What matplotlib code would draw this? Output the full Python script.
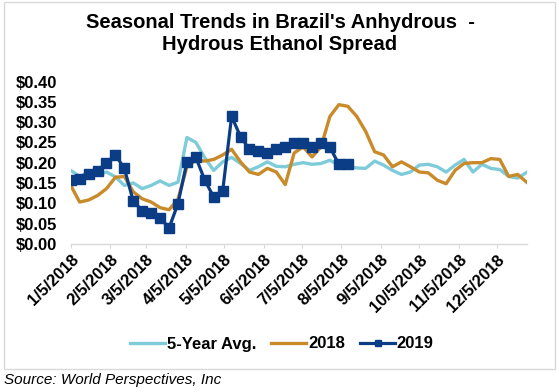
import datetime as dt

import matplotlib.pyplot as plt
import matplotlib.dates as mdates
from matplotlib.patches import Rectangle

plt.rcParams['font.family'] = ['Liberation Sans', 'DejaVu Sans']

# weekly dates (2019 values are drawn on the same calendar weeks)
start_date = dt.date(2018, 1, 5)
n_weeks = 52

avg5 = [0.181, 0.166, 0.177, 0.169, 0.177, 0.165, 0.144, 0.150, 0.136, 0.144,
        0.155, 0.144, 0.152, 0.262, 0.250, 0.212, 0.181, 0.202, 0.213, 0.198,
        0.181, 0.190, 0.202, 0.191, 0.190, 0.196, 0.200, 0.196, 0.198, 0.206,
        0.194, 0.190, 0.187, 0.186, 0.204, 0.194, 0.181, 0.171, 0.177, 0.194,
        0.196, 0.190, 0.177, 0.194, 0.208, 0.177, 0.196, 0.186, 0.183, 0.166,
        0.162, 0.176]

y2018 = [0.144, 0.103, 0.108, 0.119, 0.136, 0.164, 0.166, 0.128, 0.111, 0.103,
         0.089, 0.084, 0.110, 0.190, 0.206, 0.204, 0.208, 0.219, 0.233, 0.202,
         0.177, 0.171, 0.186, 0.177, 0.146, 0.224, 0.239, 0.214, 0.239, 0.314,
         0.343, 0.339, 0.314, 0.277, 0.227, 0.219, 0.190, 0.202, 0.190, 0.177,
         0.175, 0.157, 0.148, 0.181, 0.198, 0.200, 0.200, 0.210, 0.208, 0.166,
         0.171, 0.152]

y2019 = [0.157, 0.161, 0.171, 0.180, 0.200, 0.219, 0.186, 0.105, 0.082, 0.075,
         0.064, 0.039, 0.099, 0.202, 0.213, 0.157, 0.115, 0.130, 0.314, 0.264,
         0.233, 0.229, 0.223, 0.233, 0.238, 0.248, 0.248, 0.238, 0.248, 0.238,
         0.196, 0.196]

tick_dates = [dt.date(2018, m, 5) for m in range(1, 13)]
tick_labels = ['{}/5/2018'.format(m) for m in range(1, 13)]
y_ticks = [0.0, 0.05, 0.10, 0.15, 0.20, 0.25, 0.30, 0.35, 0.40]

weeks = [start_date + dt.timedelta(days=7 * i) for i in range(n_weeks)]

fig = plt.figure(figsize=(5.59, 3.92), dpi=100)
ax = fig.add_axes([0.1265, 0.378, 0.8155, 0.414])

ax.plot(weeks, avg5, color='#7ECBDA', lw=2.4, label='5-Year Avg.')
ax.plot(weeks, y2018, color='#C98A2A', lw=2.4, label='2018')
ax.plot(weeks[:len(y2019)], y2019, color='#0B3D86', lw=2.3, marker='s',
        markersize=6.5, label='2019')

ax.set_xlim(weeks[0], weeks[-1])
ax.set_ylim(0, 0.40)
ax.set_yticks(y_ticks)
ax.set_yticklabels(['${:.2f}'.format(v) for v in y_ticks], fontsize=12, fontweight='bold')
ax.set_xticks([mdates.date2num(d) for d in tick_dates])
ax.set_xticklabels(tick_labels, rotation=45, ha='right', rotation_mode='anchor',
                   fontsize=12, fontweight='bold')

for s in ['top', 'right', 'left']:
    ax.spines[s].set_visible(False)
ax.spines['bottom'].set_color('#D9D9D9')
ax.spines['bottom'].set_linewidth(1.0)
ax.tick_params(axis='y', length=0, pad=10)
ax.tick_params(axis='x', length=3, color='#D9D9D9', pad=3)

# chart border
fig.patches.append(Rectangle((4 / 559, 23 / 392), 551 / 559, 367 / 392,
                             transform=fig.transFigure, fill=False,
                             edgecolor='#D9D9D9', lw=1.0))

fig.text(280 / 559, 1 - 33 / 392, "Seasonal Trends in Brazil's Anhydrous  -\nHydrous Ethanol Spread",
         ha='center', va='center', fontsize=14.5, fontweight='bold', linespacing=1.2)

leg = fig.legend(loc='center', bbox_to_anchor=(282 / 559, 1 - 344 / 392), ncol=3,
                 frameon=False, handlelength=2.1, handletextpad=0.1, columnspacing=0.9,
                 markerscale=0.7, prop={'size': 12, 'weight': 'bold'})

fig.text(4 / 559, 1 - 380 / 392, 'Source: World Perspectives, Inc', ha='left', va='center',
         fontsize=11, style='italic')

fig.savefig('out.png', dpi=100)
